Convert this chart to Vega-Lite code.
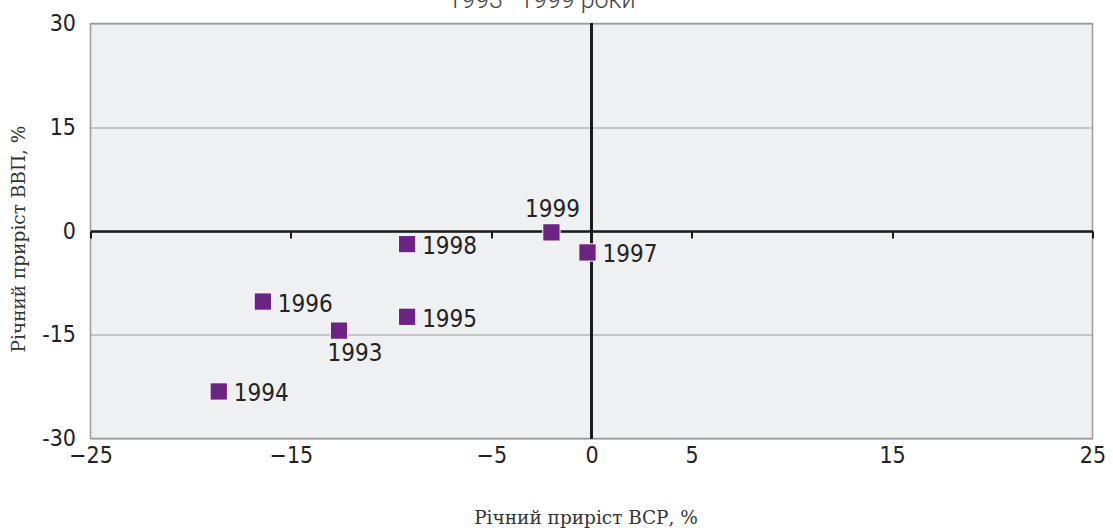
{
  "$schema": "https://vega.github.io/schema/vega-lite/v6.json",
  "width": 1002,
  "height": 415,
  "autosize": {"type": "none"},
  "padding": {"left": 90.5, "top": 23.5, "right": 20.5, "bottom": 93.5},
  "background": "white",
  "title": {
    "text": "1993–1999 роки",
    "font": "Roboto",
    "fontWeight": 300,
    "fontSize": 25,
    "color": "#444444",
    "anchor": "middle",
    "frame": "group",
    "dx": -50,
    "dy": 20,
    "baseline": "alphabetic",
    "offset": 0
  },
  "config": {
    "view": {"fill": "#EFF0F2", "stroke": "#9a9a9a", "strokeWidth": 1.5}
  },
  "data": {
    "values": [
      {"year": "1993", "gdp_w": -12.6, "gdp_u": -14.4},
      {"year": "1994", "gdp_w": -18.6, "gdp_u": -23.2},
      {"year": "1995", "gdp_w": -9.2, "gdp_u": -12.4},
      {"year": "1996", "gdp_w": -16.4, "gdp_u": -10.2},
      {"year": "1997", "gdp_w": -0.2, "gdp_u": -3.1},
      {"year": "1998", "gdp_w": -9.2, "gdp_u": -1.9},
      {"year": "1999", "gdp_w": -2.0, "gdp_u": -0.2}
    ]
  },
  "layer": [
    {
      "mark": {"type": "rule", "color": "#1a1a1a", "strokeWidth": 2},
      "encoding": {
        "x": {
          "datum": 0,
          "type": "quantitative",
          "scale": {"domain": [-25, 25], "nice": false, "zero": false},
          "axis": {
            "orient": "bottom",
            "values": [-25, -15, -5, 0, 5, 15, 25],
            "domain": false,
            "ticks": false,
            "grid": false,
            "labelFont": "DejaVu Sans Condensed, Roboto",
            "labelFontSize": 23,
            "labelColor": "#222222",
            "labelPadding": 6,
            "labelFlush": false,
            "title": "Річний приріст ВСР, %",
            "titleFont": "DejaVu Serif",
            "titleFontSize": 18.5,
            "titleFontWeight": "normal",
            "titleColor": "#333333",
            "titleBaseline": "middle",
            "titleY": 79,
            "titleX": 495
          }
        }
      }
    },
    {
      "mark": {"type": "point", "shape": "square", "filled": true, "size": 300, "color": "#6B2384", "stroke": "white", "strokeWidth": 1, "opacity": 1},
      "encoding": {
        "x": {
          "field": "gdp_w",
          "type": "quantitative",
          "axis": {
            "orient": "bottom",
            "offset": -207.5,
            "values": [-25, -15, -5, 0, 5, 15, 25],
            "domain": true,
            "domainColor": "#1a1a1a",
            "domainWidth": 2.5,
            "ticks": true,
            "tickColor": "#1a1a1a",
            "tickWidth": 2,
            "tickSize": 7,
            "labels": false,
            "grid": false,
            "title": null
          }
        },
        "y": {
          "field": "gdp_u",
          "type": "quantitative",
          "scale": {"domain": [-30, 30], "nice": false, "zero": false},
          "axis": {
            "values": [-30, -15, 0, 15, 30],
            "domain": false,
            "ticks": false,
            "grid": true,
            "gridColor": "#9a9a9a",
            "gridWidth": 1,
            "labelFont": "DejaVu Sans Condensed, Roboto",
            "labelFontSize": 23,
            "labelColor": "#222222",
            "labelPadding": 15,
            "labelFlush": false,
            "labelExpr": "replace(datum.label, '−', '-')",
            "title": "Річний приріст ВВП, %",
            "titleFont": "DejaVu Serif",
            "titleFontSize": 18.5,
            "titleFontWeight": "normal",
            "titleColor": "#333333",
            "titleBaseline": "middle",
            "titleX": -72,
            "titleY": 215
          }
        }
      }
    },
    {
      "transform": [{"filter": "datum.year != '1999' && datum.year != '1993'"}],
      "mark": {"type": "text", "align": "left", "baseline": "middle", "dx": 15, "dy": 3, "font": "DejaVu Sans Condensed, Roboto", "fontSize": 24, "color": "#222222"},
      "encoding": {
        "x": {"field": "gdp_w", "type": "quantitative", "axis": null},
        "y": {"field": "gdp_u", "type": "quantitative"},
        "text": {"field": "year"}
      }
    },
    {
      "transform": [{"filter": "datum.year == '1999'"}],
      "mark": {"type": "text", "align": "center", "baseline": "middle", "dx": 1, "dy": -22, "font": "DejaVu Sans Condensed, Roboto", "fontSize": 24, "color": "#222222"},
      "encoding": {
        "x": {"field": "gdp_w", "type": "quantitative", "axis": null},
        "y": {"field": "gdp_u", "type": "quantitative"},
        "text": {"field": "year"}
      }
    },
    {
      "transform": [{"filter": "datum.year == '1993'"}],
      "mark": {"type": "text", "align": "center", "baseline": "middle", "dx": 16, "dy": 23, "font": "DejaVu Sans Condensed, Roboto", "fontSize": 24, "color": "#222222"},
      "encoding": {
        "x": {"field": "gdp_w", "type": "quantitative", "axis": null},
        "y": {"field": "gdp_u", "type": "quantitative"},
        "text": {"field": "year"}
      }
    }
  ],
  "resolve": {"axis": {"x": "independent"}}
}
